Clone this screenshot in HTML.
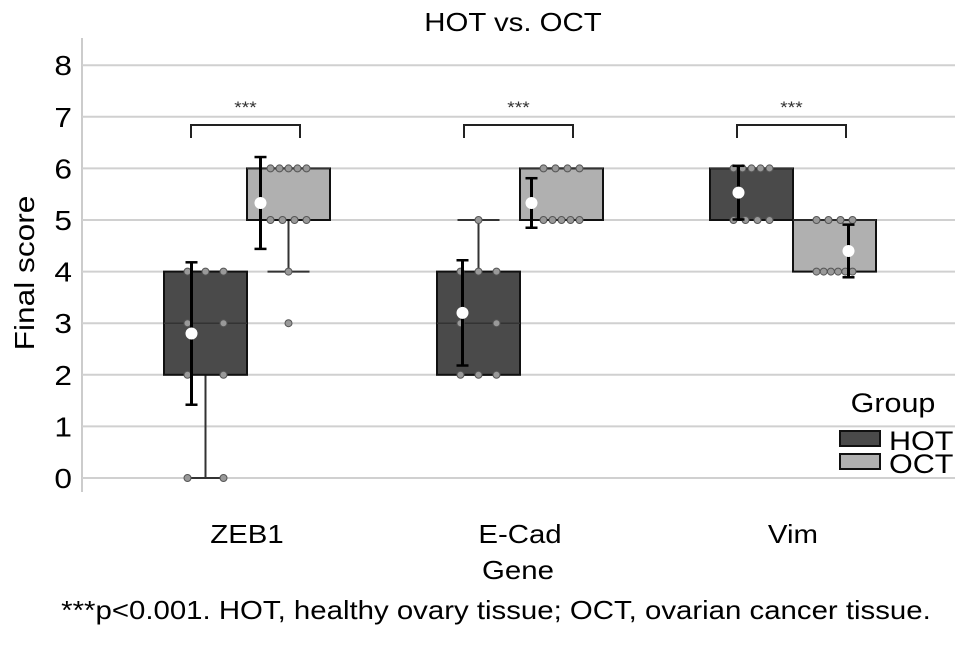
<!DOCTYPE html>
<html><head><meta charset="utf-8"><style>
body{margin:0;background:#fff;}
svg text{font-family:"Liberation Sans",sans-serif;}
</style></head><body>
<svg id="chart" width="969" height="640" viewBox="0 0 969 640" xmlns="http://www.w3.org/2000/svg">
<text x="513" y="31" font-size="26" text-anchor="middle">HOT vs. OCT</text>
<text x="0" y="0" font-size="28" text-anchor="middle" transform="translate(34,273) rotate(-90)">Final score</text>
<text x="518" y="579" font-size="26" text-anchor="middle">Gene</text>
<text x="496" y="619" font-size="26" text-anchor="middle">***p&lt;0.001. HOT, healthy ovary tissue; OCT, ovarian cancer tissue.</text>
<g id="grid"></g><g id="marks"></g>
<text x="893" y="412" font-size="27" text-anchor="middle">Group</text>
<rect x="840" y="431" width="40" height="15" fill="#4a4a4a" stroke="#111" stroke-width="2"/>
<text x="889" y="450" font-size="27">HOT</text>
<rect x="840" y="454" width="40" height="15" fill="#b0b0b0" stroke="#111" stroke-width="2"/>
<text x="889" y="473" font-size="27">OCT</text>
</svg>
<script>
const categories=["ZEB1","E-Cad","Vim"];
const groups=["HOT","OCT"];
const q1=[[2,5],[2,5],[5,4]];
const q3=[[4,6],[4,6],[6,5]];
const medians=[[3,6],[3,6],[6,5]];
const whiskLo=[[0,4],[2,5],[5,4]];
const whiskHi=[[4,6],[5,6],[6,5]];
const means=[[2.8,5.33],[3.2,5.33],[5.53,4.4]];
const sds=[[1.38,0.89],[1.02,0.48],[0.52,0.51]];
const outliers=[[[],[3]],[[],[]],[[],[]]];
const points=[[[4,4,4,3,3,2,2,0,0],[6,6,6,6,6,5,5,5,5,4]],[[5,4,4,4,3,3,2,2,2],[6,6,6,6,5,5,5,5,5]],[[6,6,6,6,6,5,5,5,5],[5,5,5,5,4,4,4,4,4,4]]];
const yTicks=[0,1,2,3,4,5,6,7,8];
const sig=["***","***","***"];
const meanOffset=[[-14,-28],[-16,-30],[-13,14]];
const fills=["#4a4a4a","#b0b0b0"];
const NS="http://www.w3.org/2000/svg";
const y=v=>478-51.6*v;
const cx=i=>247+i*273;
const bw=83;
function mk(tag,attrs,parent){const e=document.createElementNS(NS,tag);for(const k in attrs)e.setAttribute(k,attrs[k]);parent.appendChild(e);return e;}
const grid=document.getElementById('grid'),marks=document.getElementById('marks');
let ax=mk('line',{x1:82,x2:82,y1:38,y2:492,stroke:'#ccc','stroke-width':2},grid);


yTicks.forEach(t=>{
 let g=mk('line',{x1:82,x2:955,y1:y(t),y2:y(t),stroke:'#d0d0d0','stroke-width':2},grid);
 
 
 let tx=mk('text',{x:72,y:y(t)+10,'font-size':28,'text-anchor':'end'},grid);tx.textContent=t;
 
 
});
categories.forEach((c,i)=>{
 let tx=mk('text',{x:cx(i),y:543,'font-size':26,'text-anchor':'middle'},marks);tx.textContent=c;
 
 
 groups.forEach((gname,j)=>{
  const x0=cx(i)+(j-1)*bw, xc=x0+bw/2;
  let g=mk('g',{},marks);
  
  
  mk('line',{x1:xc,x2:xc,y1:y(whiskLo[i][j]),y2:y(q1[i][j]),stroke:'#333','stroke-width':2},g);
  mk('line',{x1:xc,x2:xc,y1:y(whiskHi[i][j]),y2:y(q3[i][j]),stroke:'#333','stroke-width':2},g);
  mk('line',{x1:xc-21,x2:xc+21,y1:y(whiskLo[i][j]),y2:y(whiskLo[i][j]),stroke:'#333','stroke-width':2},g);
  mk('line',{x1:xc-21,x2:xc+21,y1:y(whiskHi[i][j]),y2:y(whiskHi[i][j]),stroke:'#333','stroke-width':2},g);
  mk('rect',{x:x0,y:y(q3[i][j]),width:bw,height:y(q1[i][j])-y(q3[i][j]),fill:fills[j],stroke:'#111','stroke-width':2},g);
  mk('line',{x1:x0,x2:x0+bw,y1:y(medians[i][j]),y2:y(medians[i][j]),stroke:'#333','stroke-width':1.5},g);
  outliers[i][j].forEach(o=>{mk('circle',{cx:xc,cy:y(o),r:3.5,fill:'#999',stroke:'#555'},g);});
  const pts=points[i][j];
  const counts={};
  pts.forEach(p=>{counts[p]=(counts[p]||0)+1;});
  const seen={};
  pts.forEach(p=>{const k=seen[p]=(seen[p]||0);seen[p]++;const n=counts[p];
   const px=xc-18+(n>1?36*k/(n-1):18);
   let d=mk('circle',{cx:px,cy:y(p),r:3.5,fill:'#999',stroke:'#555','stroke-width':1},g);
   
   });
  const mx=xc+meanOffset[i][j];
  mk('line',{x1:mx,x2:mx,y1:y(means[i][j]-sds[i][j]),y2:y(means[i][j]+sds[i][j]),stroke:'#000','stroke-width':3},g);
  [means[i][j]-sds[i][j],means[i][j]+sds[i][j]].forEach(v=>mk('line',{x1:mx-6,x2:mx+6,y1:y(v),y2:y(v),stroke:'#000','stroke-width':2.5},g));
  let m=mk('circle',{cx:mx,cy:y(means[i][j]),r:6,fill:'#fff'},g);
  
  
 });
 const xa=cx(i)-56, xb=cx(i)+53;
 let br=mk('path',{d:`M${xa},138 V125 H${xb} V138`,fill:'none',stroke:'#222','stroke-width':2},marks);
 
 
 let st=mk('text',{x:(xa+xb)/2,y:113,'font-size':17,'text-anchor':'middle',fill:'#333'},marks);st.textContent=sig[i];
 
 
});
// horizontal stretch to mimic the reference's wider typeface
document.querySelectorAll('#chart text').forEach(t=>{
 const L=t.getComputedTextLength();
 t.setAttribute('textLength',(L*1.13).toFixed(1));
 t.setAttribute('lengthAdjust','spacingAndGlyphs');
});
</script>
</body></html>
